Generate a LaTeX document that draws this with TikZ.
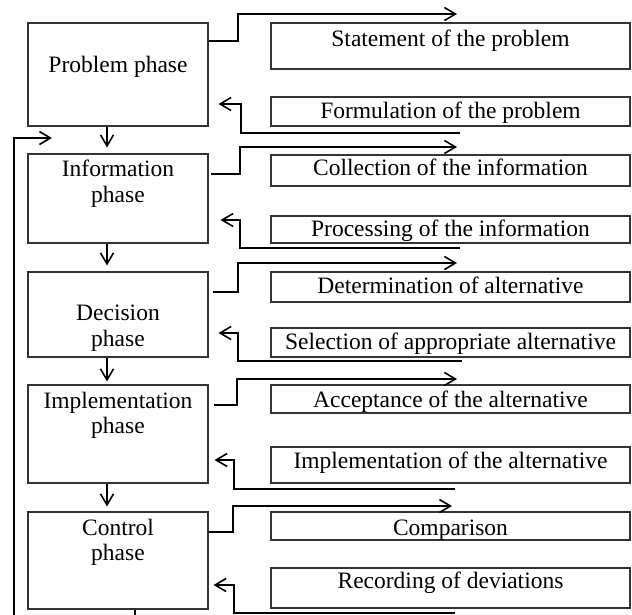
\documentclass[tikz,border=0pt]{standalone}
\usepackage{fontspec}
\setmainfont{Liberation Serif}
\usetikzlibrary{arrows.meta}
\tikzset{
  bx/.style={draw=black!80, line width=1.1pt, inner sep=0pt},
  txt/.style={inner sep=0pt, anchor=base, font=\fontsize{23.5}{27}\selectfont},
  conn/.style={line width=1.6pt, line join=miter},
  arr/.style={conn, -{Straight Barb[length=11pt,width=13pt]}}
}
\newcommand{\mybox}[5]{\node[bx, minimum width={(#4-#2)*1pt}, minimum height={(#5-#3)*1pt}] (#1) at ({(#2+#4)/2},{(#3+#5)/2}) {};}
\begin{document}
\begin{tikzpicture}[x=1pt,y=-1pt]
\useasboundingbox (0,0) rectangle (632,614);
\clip (0,0) rectangle (632,614);
% left phase boxes
\mybox{P}{28}{23}{208}{126}
\mybox{I}{28}{154}{208}{243}
\mybox{D}{28}{272}{208}{357}
\mybox{M}{28}{385}{208}{483}
\mybox{C}{28}{512}{208}{609}
% right boxes
\mybox{r1}{271}{23}{630}{69}
\mybox{r2}{271}{97}{630}{126}
\mybox{r3}{271}{155}{630}{186}
\mybox{r4}{271}{216}{630}{243}
\mybox{r5}{271}{272}{630}{302}
\mybox{r6}{271}{328}{630}{357}
\mybox{r7}{271}{385}{630}{413}
\mybox{r8}{271}{447}{630}{483}
\mybox{r9}{271}{512}{630}{540}
\mybox{r10}{271}{568}{630}{608}
% left texts
\node[txt] (tP) at (118,72) {Problem phase};
\node[txt] (tI1) at (118,176) {Information};
\node[txt] (tI2) at (118,202) {phase};
\node[txt] (tD1) at (118,320) {Decision};
\node[txt] (tD2) at (118,346) {phase};
\node[txt] (tM1) at (118,408) {Implementation};
\node[txt] (tM2) at (118,433) {phase};
\node[txt] (tC1) at (118,535) {Control};
\node[txt] (tC2) at (118,560) {phase};
% right texts
\node[txt] (t1) at (450.5,46) {Statement of the problem};
\node[txt] (t2) at (450.5,118) {Formulation of the problem};
\node[txt] (t3) at (450.5,175) {Collection of the information};
\node[txt] (t4) at (450.5,236) {Processing of the information};
\node[txt] (t5) at (450.5,293) {Determination of alternative};
\node[txt] (t6) at (450.5,349) {Selection of appropriate alternative};
\node[txt] (t7) at (450.5,407) {Acceptance of the alternative};
\node[txt] (t8) at (450.5,468) {Implementation of the alternative};
\node[txt] (t9) at (450.5,535) {Comparison};
\node[txt] (t10) at (450.5,588) {Recording of deviations};
% down arrows
\draw[arr, shorten >=6pt] (P.south -| 107,0) -- (I.north -| 107,0);
\draw[arr, shorten >=6pt] (I.south -| 107,0) -- (D.north -| 107,0);
\draw[arr, shorten >=3pt] (D.south -| 107,0) -- (M.north -| 107,0);
\draw[arr, shorten >=5pt] (M.south -| 107,0) -- (C.north -| 107,0);
% outgoing connectors
\coordinate (o1) at (457,14);
\coordinate (o2) at (457,147);
\coordinate (o3) at (457,263);
\coordinate (o4) at (457,379);
\coordinate (o5) at (452,506);
\draw[arr] (P.east |- 0,41) -| (238,14) -- (o1);
\draw[arr] ([xshift=2pt]I.east |- 0,174) -| (240,147) -- (o2);
\draw[arr] ([xshift=4pt]D.east |- 0,292) -| (238,263) -- (o3);
\draw[arr] ([xshift=5pt]M.east |- 0,405) -| (237,379) -- (o4);
\draw[arr] (C.east |- 0,532) -| (233,506) -- (o5);
% return connectors
\coordinate (b1) at (460,133);
\coordinate (b2) at (460,248);
\coordinate (b3) at (462,361);
\coordinate (b4) at (455,489);
\coordinate (b5) at (455,613);
\draw[arr, shorten >=10pt] (b1) -| (241,104) -- (P.east |- 0,104);
\draw[arr, shorten >=12pt] (b2) -| (240,220) -- (I.east |- 0,220);
\draw[arr, shorten >=10pt] (b3) -| (238,333) -- (D.east |- 0,333);
\draw[arr, shorten >=6pt] (b4) -| (234,460) -- (M.east |- 0,460);
\draw[arr, shorten >=5pt] (b5) -| (234,585) -- (C.east |- 0,585);
% feedback loop
\coordinate (fb) at (52,138);
\draw[arr] (C.south -| 135,0) -- (135,617) -| (14,138) -- (fb);
\end{tikzpicture}
\end{document}
